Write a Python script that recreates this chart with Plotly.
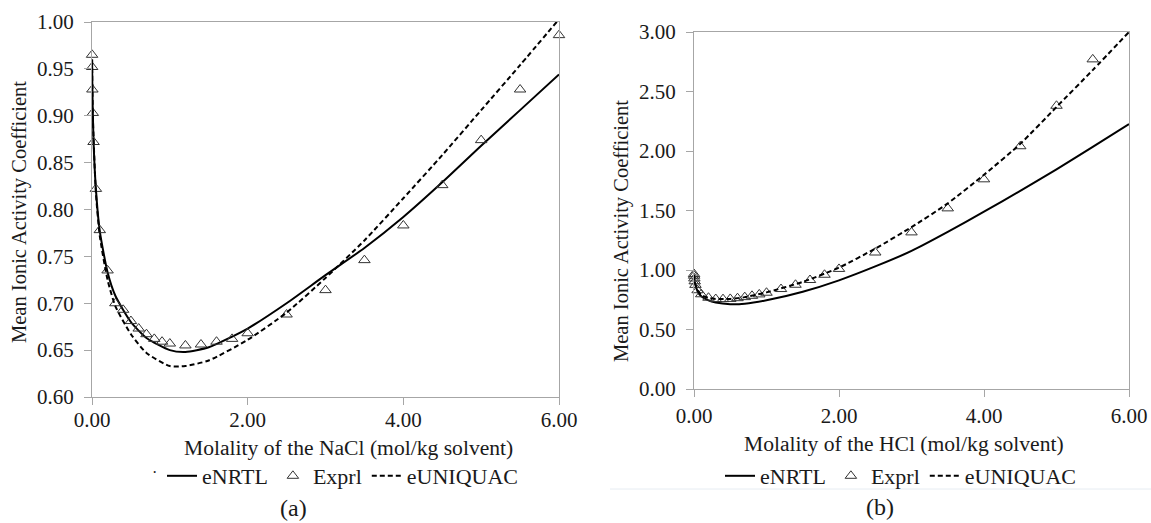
import plotly.graph_objects as go

# ---------------- data: (a) NaCl ----------------
nacl_exp_m = [0.001, 0.002, 0.005, 0.01, 0.02, 0.05, 0.1, 0.2, 0.3, 0.4, 0.5, 0.6, 0.7, 0.8, 0.9, 1.0,
              1.2, 1.4, 1.6, 1.8, 2.0, 2.5, 3.0, 3.5, 4.0, 4.5, 5.0, 5.5, 6.0]
nacl_exp_g = [0.965, 0.952, 0.928, 0.903, 0.872, 0.822, 0.778, 0.735, 0.700, 0.693, 0.681, 0.673, 0.667,
              0.662, 0.659, 0.657, 0.655, 0.656, 0.659, 0.662, 0.668, 0.688, 0.714, 0.746, 0.783, 0.826,
              0.874, 0.928, 0.986]

nacl_enrtl_m = [0.001, 0.005, 0.01, 0.02, 0.05, 0.1, 0.2, 0.3, 0.5, 0.7, 1.0, 1.2, 1.5, 2.0, 2.5, 3.0,
                3.5, 4.0, 4.5, 5.0, 5.5, 6.0]
nacl_enrtl_g = [0.960, 0.930, 0.905, 0.872, 0.822, 0.777, 0.733, 0.708, 0.680, 0.663, 0.650, 0.648,
                0.653, 0.673, 0.700, 0.730, 0.759, 0.792, 0.829, 0.868, 0.906, 0.944]

nacl_euniq_m = [0.001, 0.01, 0.05, 0.1, 0.2, 0.3, 0.5, 0.7, 1.0, 1.2, 1.5, 2.0, 2.5, 3.0, 3.5, 4.0,
                4.5, 5.0, 5.5, 6.0]
nacl_euniq_g = [0.960, 0.902, 0.818, 0.772, 0.725, 0.697, 0.667, 0.647, 0.633, 0.633, 0.639, 0.661,
                0.690, 0.727, 0.767, 0.812, 0.858, 0.906, 0.954, 1.003]

# ---------------- data: (b) HCl ----------------
hcl_exp_m = [0.001, 0.002, 0.005, 0.01, 0.02, 0.05, 0.1, 0.2, 0.3, 0.4, 0.5, 0.6, 0.7, 0.8, 0.9, 1.0,
             1.2, 1.4, 1.6, 1.8, 2.0, 2.5, 3.0, 3.5, 4.0, 4.5, 5.0, 5.5]
hcl_exp_g = [0.966, 0.952, 0.929, 0.905, 0.875, 0.830, 0.796, 0.767, 0.756, 0.755, 0.757, 0.763, 0.772,
             0.783, 0.795, 0.809, 0.840, 0.876, 0.916, 0.960, 1.009, 1.147, 1.316, 1.518, 1.762, 2.040,
             2.380, 2.770]

hcl_enrtl_m = [0.001, 0.01, 0.05, 0.1, 0.2, 0.3, 0.5, 0.7, 1.0, 1.5, 2.0, 2.5, 3.0, 3.5, 4.0, 4.5,
               5.0, 5.5, 6.0]
hcl_enrtl_g = [0.960, 0.900, 0.820, 0.780, 0.745, 0.727, 0.713, 0.717, 0.745, 0.817, 0.913, 1.030,
               1.160, 1.320, 1.490, 1.665, 1.845, 2.035, 2.227]

hcl_euniq_m = [0.001, 0.01, 0.05, 0.1, 0.2, 0.3, 0.5, 0.7, 1.0, 1.5, 2.0, 2.5, 3.0, 3.5, 4.0, 4.5,
               5.0, 5.5, 6.0]
hcl_euniq_g = [0.960, 0.900, 0.830, 0.790, 0.765, 0.757, 0.757, 0.772, 0.812, 0.900, 1.020, 1.180,
               1.360, 1.560, 1.800, 2.060, 2.370, 2.680, 3.000]

x_ticks = [0, 2, 4, 6]
left_y_ticks = [0.60, 0.65, 0.70, 0.75, 0.80, 0.85, 0.90, 0.95, 1.00]
right_y_ticks = [0.0, 0.5, 1.0, 1.5, 2.0, 2.5, 3.0]

names = ["eNRTL", "Exprl", "eUNIQUAC"]
x_title_a = "Molality of the NaCl (mol/kg solvent)"
x_title_b = "Molality of the HCl (mol/kg solvent)"
y_title = "Mean Ionic Activity Coefficient"

# ---------------- figure ----------------
W, H = 1151, 523
FONT = "Liberation Serif, Times New Roman, serif"
TXT = "#1a1a1a"
AX = "#a6a6a6"

fig = go.Figure()

def add_panel(xa, ya, leg, em, eg, nm, ng, um, ug):
    fig.add_trace(go.Scatter(x=nm, y=ng, mode="lines", name=names[0], xaxis=xa, yaxis=ya,
                             legend=leg, line=dict(color="black", width=2, shape="spline", smoothing=0.6)))
    fig.add_trace(go.Scatter(x=em, y=eg, mode="markers", name=names[1], xaxis=xa, yaxis=ya,
                             legend=leg, cliponaxis=False,
                             marker=dict(symbol="triangle-up-open", size=10, color="#333333",
                                         line=dict(width=1, color="#333333"))))
    fig.add_trace(go.Scatter(x=um, y=ug, mode="lines", name=names[2], xaxis=xa, yaxis=ya,
                             legend=leg, line=dict(color="black", width=2, dash="5px,3px",
                                                   shape="spline", smoothing=0.6)))

add_panel("x", "y", "legend", nacl_exp_m, nacl_exp_g, nacl_enrtl_m, nacl_enrtl_g, nacl_euniq_m, nacl_euniq_g)
add_panel("x2", "y2", "legend2", hcl_exp_m, hcl_exp_g, hcl_enrtl_m, hcl_enrtl_g, hcl_euniq_m, hcl_euniq_g)

axis_common = dict(showline=True, linecolor=AX, linewidth=1, mirror=True, showgrid=False,
                   zeroline=False, ticks="outside", ticklen=7, tickcolor=AX, tickwidth=1,
                   automargin=False,
                   tickfont=dict(family=FONT, size=21, color=TXT), tickformat=".2f")

fig.update_layout(
    width=W, height=H, margin=dict(l=0, r=0, t=0, b=0, autoexpand=False),
    paper_bgcolor="white", plot_bgcolor="white",
    font=dict(family=FONT, size=21, color=TXT),
    xaxis=dict(domain=[92 / W, 559 / W], range=[0, 6], tickvals=x_ticks, anchor="y",
               ticklabelstandoff=-3, **axis_common),
    yaxis=dict(domain=[1 - 397 / H, 1 - 22 / H], range=[0.60, 1.00], tickvals=left_y_ticks,
               anchor="x", ticklabelstandoff=6, **axis_common),
    xaxis2=dict(domain=[694 / W, 1129 / W], range=[0, 6], tickvals=x_ticks, anchor="y2",
                ticklabelstandoff=1, **axis_common),
    yaxis2=dict(domain=[1 - 389 / H, 1 - 32 / H], range=[0, 3.0], tickvals=right_y_ticks,
                anchor="x2", ticklabelstandoff=6, **axis_common),
    legend=dict(orientation="h", x=162 / W, xanchor="left", y=1 - 476 / H, yanchor="middle",
                bgcolor="rgba(0,0,0,0)", font=dict(family=FONT, size=22, color=TXT),
                traceorder="normal"),
    legend2=dict(orientation="h", x=720 / W, xanchor="left", y=1 - 476 / H, yanchor="middle",
                 bgcolor="rgba(0,0,0,0)", font=dict(family=FONT, size=22, color=TXT),
                 traceorder="normal"),
)

def ann(text, px, py, size=21.6, angle=0):
    fig.add_annotation(text=text, xref="paper", yref="paper", x=px / W, y=1 - py / H,
                       xanchor="center", yanchor="middle", showarrow=False, textangle=angle,
                       font=dict(family=FONT, size=size, color=TXT))

ann(y_title, 20, 212, size=20.5, angle=-90)
ann(y_title, 621, 231, size=20.5, angle=-90)
ann(x_title_a, 348, 448)
ann(x_title_b, 904, 444)
ann("(a)", 293, 508, size=24)
ann("(b)", 880, 507, size=24)
ann("·", 154, 472, size=16)

fig.add_shape(type="line", xref="paper", yref="paper", x0=610 / W, x1=1, y0=1 - 489 / H, y1=1 - 489 / H,
              line=dict(color="#e6ecf2", width=1))

fig.write_html("out.html")
